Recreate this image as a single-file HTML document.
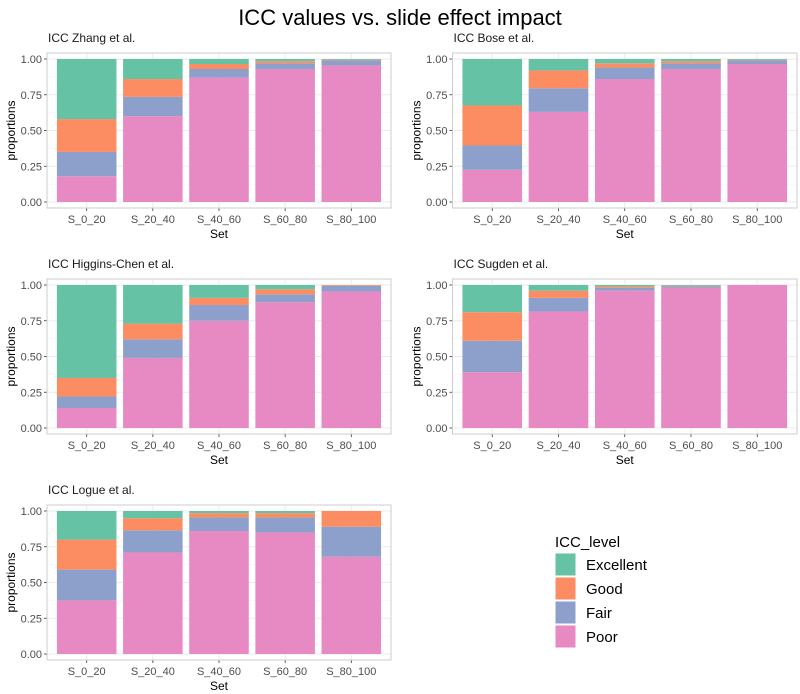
<!DOCTYPE html>
<html><head><meta charset="utf-8">
<style>
body{margin:0;background:#fff;}
svg{display:block;font-family:"Liberation Sans",sans-serif;}
</style></head>
<body>
<svg id="chart" width="800" height="694" viewBox="0 0 800 694">
<text x="400" y="25" text-anchor="middle" font-size="22" fill="#000">ICC values vs. slide effect impact</text>
</svg>
<script>
const categories = ["S_0_20","S_20_40","S_40_60","S_60_80","S_80_100"];
const levels = ["Excellent","Good","Fair","Poor"];
const panelTitles = ["ICC Zhang et al.","ICC Bose et al.","ICC Higgins-Chen et al.","ICC Sugden et al.","ICC Logue et al."];
const yTicks = [0,0.25,0.5,0.75,1];
const yTickLabels = ["0.00","0.25","0.50","0.75","1.00"];
const poorZhang = [0.18,0.60,0.87,0.93,0.955];
const fairZhang = [0.17,0.135,0.06,0.04,0.035];
const goodZhang = [0.23,0.125,0.035,0.015,0.005];
const poorBose = [0.225,0.63,0.86,0.93,0.965];
const fairBose = [0.17,0.165,0.08,0.04,0.025];
const goodBose = [0.28,0.125,0.03,0.015,0.005];
const poorHiggins = [0.14,0.49,0.75,0.88,0.955];
const fairHiggins = [0.08,0.13,0.11,0.055,0.04];
const goodHiggins = [0.13,0.11,0.05,0.035,0.005];
const poorSugden = [0.39,0.815,0.96,0.98,1.0];
const fairSugden = [0.22,0.095,0.02,0.01,0];
const goodSugden = [0.20,0.05,0.01,0.005,0];
const poorLogue = [0.375,0.71,0.86,0.85,0.68];
const fairLogue = [0.215,0.155,0.095,0.105,0.21];
const goodLogue = [0.21,0.085,0.03,0.03,0.11];
const panelPoor = [poorZhang,poorBose,poorHiggins,poorSugden,poorLogue];
const panelFair = [fairZhang,fairBose,fairHiggins,fairSugden,fairLogue];
const panelGood = [goodZhang,goodBose,goodHiggins,goodSugden,goodLogue];
const colors = {Excellent:"#66c2a5",Good:"#fc8d62",Fair:"#8da0cb",Poor:"#e78ac3"};

const NS="http://www.w3.org/2000/svg";
const svg=document.getElementById('chart');
function mk(tag,attrs,parent){const e=document.createElementNS(NS,tag);for(const k in attrs)e.setAttribute(k,attrs[k]);(parent||svg).appendChild(e);return e;}

const panelX=[[47,391],[452.5,797]];
const rowOffsets=[0,226,452];
for(let p=0;p<5;p++){
  const col=p%2,row=Math.floor(p/2);
  const x0=panelX[col][0],x1=panelX[col][1];
  const off=rowOffsets[row];
  const yTop=59+off,yBot=202+off;
  const fy=v=>yBot-(yBot-yTop)*v;
  const step=(x1-x0)/(categories.length+0.2);
  const cx=i=>x0+step*(0.6+i);
  const g=mk('g',{});
  
  
  const t=mk('text',{x:x0+1,y:off+42,'font-size':12,fill:'#1a1a1a'},g);
  t.textContent=panelTitles[p];
  
  
  for(let i=0;i<4;i++){const v=0.125+0.25*i;mk('line',{x1:x0,x2:x1,y1:fy(v),y2:fy(v),stroke:'#f2f2f2','stroke-width':0.6},g);}
  yTicks.forEach((v,i)=>{
    mk('line',{x1:x0,x2:x1,y1:fy(v),y2:fy(v),stroke:'#ebebeb','stroke-width':1},g);
    mk('line',{x1:x0-3,x2:x0,y1:fy(v),y2:fy(v),stroke:'#333','stroke-width':0.8},g);
    const tl=mk('text',{x:x0-5,y:fy(v)+4,'text-anchor':'end','font-size':11,fill:'#4d4d4d'},g);
    tl.textContent=yTickLabels[i];
    
    
  });
  categories.forEach((c,i)=>{
    mk('line',{x1:cx(i),x2:cx(i),y1:yTop-6,y2:yBot+6,stroke:'#ebebeb','stroke-width':1},g);
  });
  const bw=step*0.9;
  categories.forEach((c,i)=>{
    const vals={Poor:panelPoor[p][i],Fair:panelFair[p][i],Good:panelGood[p][i]};
    vals.Excellent=Math.max(0,1-vals.Poor-vals.Fair-vals.Good);
    let base=0;
    ["Poor","Fair","Good","Excellent"].forEach(l=>{
      const v=vals[l];
      if(v>0){
        const r=mk('rect',{x:cx(i)-bw/2,y:fy(base+v),width:bw,height:fy(base)-fy(base+v),fill:colors[l]},g);
        
        
      }
      base+=v;
    });
    mk('line',{x1:cx(i),x2:cx(i),y1:yBot+6,y2:yBot+9,stroke:'#333','stroke-width':0.8},g);
    const xl=mk('text',{x:cx(i),y:yBot+21,'text-anchor':'middle','font-size':11,fill:'#4d4d4d'},g);
    xl.textContent=c;
    
    
  });
  mk('rect',{x:x0,y:yTop-6,width:x1-x0,height:(yBot+6)-(yTop-6),fill:'none',stroke:'#cccccc','stroke-width':1},g);
  const xt=mk('text',{x:(x0+x1)/2,y:yBot+36,'text-anchor':'middle','font-size':12,fill:'#000'},g);
  xt.textContent='Set';
  
  
  const yt=mk('text',{x:0,y:0,'text-anchor':'middle','font-size':12,fill:'#000',transform:`translate(${x0-32},${(yTop+yBot)/2}) rotate(-90)`},g);
  yt.textContent='proportions';
  
  
}
const lg=mk('g',{});


const lt=mk('text',{x:555,y:547,'font-size':15,fill:'#000'},lg);
lt.textContent='ICC_level';
levels.forEach((l,i)=>{
  const y=553+i*24;
  const r=mk('rect',{x:555,y:y,width:21,height:23,fill:colors[l],stroke:'#fff','stroke-width':1},lg);
  
  
  const tx=mk('text',{x:586,y:y+17,'font-size':15,fill:'#000'},lg);
  tx.textContent=l;
  
  
});
</script>
</body></html>
